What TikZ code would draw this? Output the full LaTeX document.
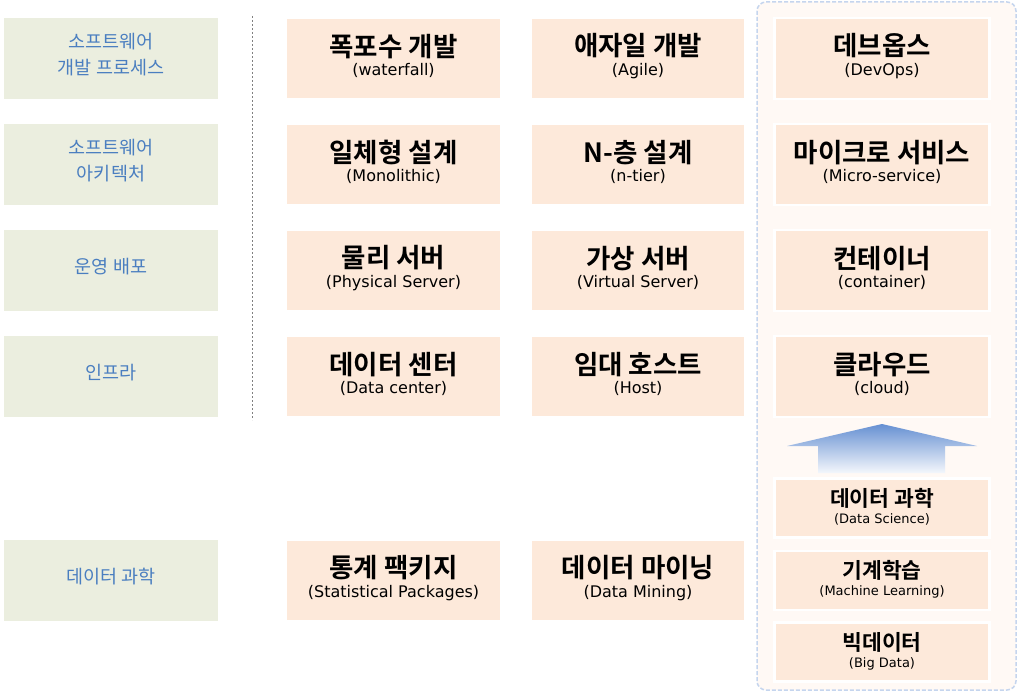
\documentclass[tikz,border=0pt]{standalone}
\usepackage{fontspec}
\newfontfamily\kr{Noto Sans CJK KR}
\newfontfamily\krb{Noto Sans CJK KR Bold}
\newfontfamily\en{DejaVu Sans}
\definecolor{lblfill}{HTML}{EBEEDF}
\definecolor{lbltext}{HTML}{4A7EC0}
\definecolor{boxfill}{HTML}{FDE9DA}
\definecolor{panel}{HTML}{FFF9F5}
\definecolor{panelline}{HTML}{C5D5EE}
\definecolor{arrowtop}{HTML}{6690D2}
\definecolor{arrowbot}{HTML}{F4F7FC}
\tikzset{
  lbl/.style={fill=lblfill, minimum width=214pt, minimum height=81pt, inner sep=0pt},
  lbltxt/.style={align=center, inner sep=0pt, text=lbltext, font=\kr\fontsize{18.5}{26}\selectfont},
  bigbox/.style={fill=boxfill, draw=white, line width=2.5pt, minimum width=215pt, minimum height=81pt,
    inner sep=0pt},
  smallbox/.style={fill=boxfill, draw=white, line width=2.5pt, minimum width=215pt, minimum height=59pt,
    inner sep=0pt},
  boxtxt/.style={align=center, inner sep=0pt},
}
\newcommand{\bt}[2]{{\krb\fontsize{26.5}{27}\selectfont #1}\\[4pt]{\en\fontsize{16}{17}\selectfont #2}}
\newcommand{\st}[2]{{\krb\fontsize{21.5}{22}\selectfont #1}\\[5pt]{\en\fontsize{13}{14}\selectfont #2}}
% #1 name, #2 centre, #3 title, #4 subtitle
\newcommand{\bigitem}[4]{\node[bigbox] (#1) at (#2) {};
  \node[boxtxt] (#1t) at ([yshift=2.5pt]#1.center) {\bt{#3}{#4}};}
\newcommand{\smallitem}[4]{\node[smallbox] (#1) at (#2) {};
  \node[boxtxt] (#1t) at ([yshift=1pt]#1.center) {\st{#3}{#4}};}
\newcommand{\lblitem}[3]{\node[lbl] (#1) at (#2) {};
  \node[lbltxt] (#1t) at ([yshift=3.5pt]#1.center) {#3};}
\begin{document}
\begin{tikzpicture}[x=1pt,y=-1pt]
\useasboundingbox (0,0) rectangle (1018,693);
% panel
\draw[panelline, fill=panel, line width=1.5pt, dash pattern=on 4pt off 2pt, rounded corners=9pt] (757,2) rectangle (1016,690);
% dashed separator
\draw[gray, line width=0.8pt, dash pattern=on 2pt off 2pt] (252,16) -- (252,420);
% left labels
\lblitem{l1}{111,58.5}{소프트웨어\\개발 프로세스}
\lblitem{l2}{111,164.5}{소프트웨어\\아키텍처}
\lblitem{l3}{111,270.5}{운영 배포}
\lblitem{l4}{111,376.5}{인프라}
\lblitem{l5}{111,580.5}{데이터 과학}
% column 2
\bigitem{a1}{393.5,58.5}{폭포수 개발}{(waterfall)}
\bigitem{a2}{393.5,164.5}{일체형 설계}{(Monolithic)}
\bigitem{a3}{393.5,270.5}{물리 서버}{(Physical Server)}
\bigitem{a4}{393.5,376.5}{데이터 센터}{(Data center)}
\bigitem{a5}{393.5,580.5}{통계 팩키지}{(Statistical Packages)}
% column 3
\bigitem{b1}{638,58.5}{애자일 개발}{(Agile)}
\bigitem{b2}{638,164.5}{N-층 설계}{(n-tier)}
\bigitem{b3}{638,270.5}{가상 서버}{(Virtual Server)}
\bigitem{b4}{638,376.5}{임대 호스트}{(Host)}
\bigitem{b5}{638,580.5}{데이터 마이닝}{(Data Mining)}
% column 4
\bigitem{c1}{882,58.5}{데브옵스}{(DevOps)}
\bigitem{c2}{882,164.5}{마이크로 서비스}{(Micro-service)}
\bigitem{c3}{882,270.5}{컨테이너}{(container)}
\bigitem{c4}{882,376.5}{클라우드}{(cloud)}
\smallitem{d1}{882,508}{데이터 과학}{(Data Science)}
\smallitem{d2}{882,580.5}{기계학습}{(Machine Learning)}
\smallitem{d3}{882,652}{빅데이터}{(Big Data)}
% arrow
\shade[top color=arrowtop, bottom color=arrowbot] (882,424) -- (977,446) -- (945,446) -- (945,473) -- (818,473) -- (818,446) -- (787,446) -- cycle;
\end{tikzpicture}
\end{document}
